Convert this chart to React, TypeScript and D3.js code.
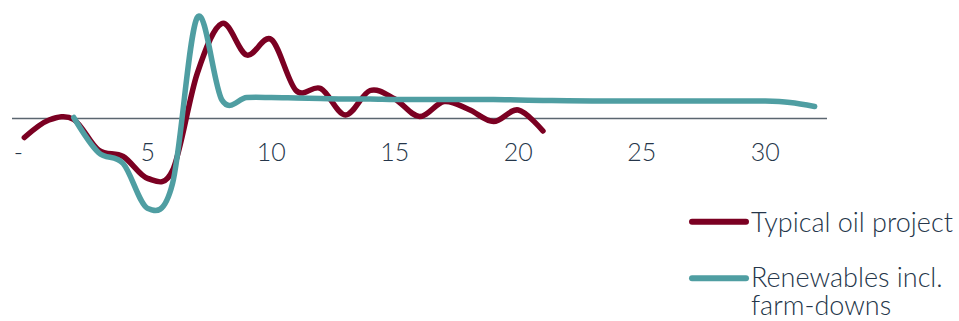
import React from "react";
import * as d3 from "d3";

const categories: number[] = d3.range(0, 33);
const tickValues: number[] = [0, 5, 10, 15, 20, 25, 30];
const tickLabels: string[] = ["-", "5", "10", "15", "20", "25", "30"];

// Typical oil project: years 0..21
const oilValues: number[] = [
  -19, -1.5, -1, -31.5, -38, -60, -52, 45, 95, 63.5, 79, 28, 30, 3.5, 28, 19.5, 2, 17, 9, -3, 8.5, -12.5,
];
// Renewables incl. farm-downs: years 2..32
const renewStart = 2;
const renewValues: number[] = [
  1, -34, -45, -90, -65, 101, 18.5, 21, 21, 20.5, 20, 19.5, 19.5, 19, 19, 19, 19, 19, 18.5, 18, 17.8, 17.6, 17.5,
  17.5, 17.5, 17.5, 17.5, 17.5, 17.5, 16, 12,
];

const seriesNames: string[] = ["Typical oil project", "Renewables incl.", "farm-downs"];

const W = 959;
const H = 321;
const RED = "#7b0022";
const TEAL = "#4f9ea2";
const TEXT = "#25364a";
const FONT = "Lato, 'Noto Sans', sans-serif";

export default function App() {
  const x = d3.scaleBand<number>().domain(categories).range([12, 827]).padding(0);
  const cx = (c: number) => (x(c) as number) + x.bandwidth() / 2;
  const y = d3.scaleLinear().domain([-100, 100]).range([218.5, 18.5]);

  const line = d3
    .line<[number, number]>()
    .x((d) => cx(d[0]))
    .y((d) => y(d[1]))
    .curve(d3.curveCardinal.tension(0));

  const oilPts: [number, number][] = oilValues.map((v, i) => [i, v]);
  const renewPts: [number, number][] = renewValues.map((v, i) => [i + renewStart, v]);

  return (
    <svg width={W} height={H} style={{ position: "absolute", left: 0, top: 0, display: "block" }}>
      <line x1={12} x2={827} y1={y(0)} y2={y(0)} stroke="#5b6670" strokeWidth={1.3} />
      {tickValues.map((t, i) => (
        <text
          key={t}
          x={cx(t) + (t === 0 ? -6 : 0)}
          y={161}
          textAnchor="middle"
          fontFamily={FONT}
          fontWeight={300}
          fontSize={25}
          fill={TEXT}
        >
          {tickLabels[i]}
        </text>
      ))}
      <path d={line(oilPts) || ""} fill="none" stroke={RED} strokeWidth={5.5} strokeLinecap="round" strokeLinejoin="round" />
      <path d={line(renewPts) || ""} fill="none" stroke={TEAL} strokeWidth={5.5} strokeLinecap="round" strokeLinejoin="round" />

      <line x1={692} x2={746} y1={221.7} y2={221.7} stroke={RED} strokeWidth={6} strokeLinecap="round" />
      <text x={751} y={231.7} fontFamily={FONT} fontWeight={300} fontSize={27} fill={TEXT}>
        {seriesNames[0]}
      </text>
      <line x1={692} x2={746} y1={278.3} y2={278.3} stroke={TEAL} strokeWidth={6} strokeLinecap="round" />
      <text x={751} y={286.7} fontFamily={FONT} fontWeight={300} fontSize={27} fill={TEXT}>
        <tspan x={751} y={286.7}>{seriesNames[1]}</tspan>
        <tspan x={751} y={315}>{seriesNames[2]}</tspan>
      </text>
    </svg>
  );
}
